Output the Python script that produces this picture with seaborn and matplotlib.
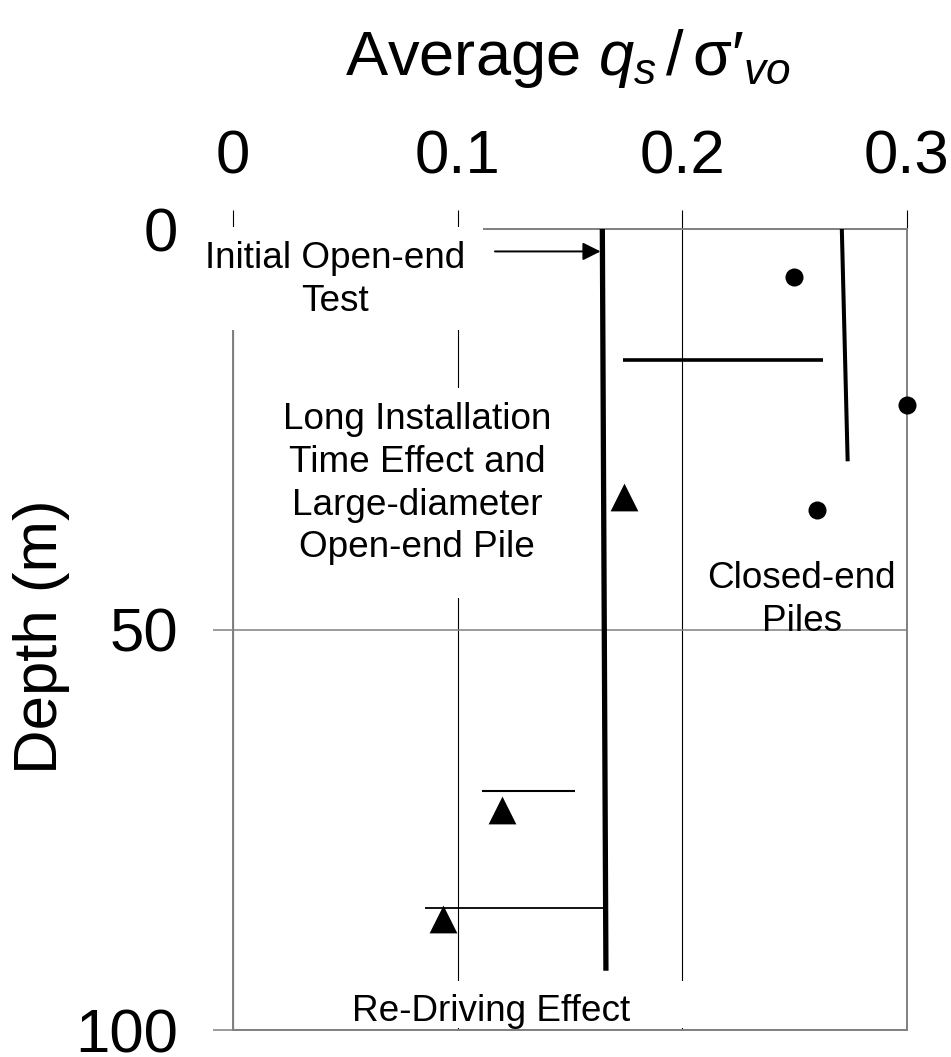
import matplotlib
matplotlib.use('Agg')
import matplotlib.pyplot as plt
from matplotlib.patches import Rectangle
import seaborn as sns

sns.set_style('white')
plt.rcParams['font.family'] = ['Liberation Sans', 'DejaVu Sans']
plt.rcParams['mathtext.fontset'] = 'custom'
plt.rcParams['mathtext.rm'] = 'Liberation Sans'
plt.rcParams['mathtext.it'] = 'Liberation Sans:italic'
plt.rcParams['text.color'] = 'black'
plt.rcParams['xtick.labelcolor'] = 'black'
plt.rcParams['ytick.labelcolor'] = 'black'

# values (q_s / sigma'_vo against depth in m)
open_end_q = [0.1644, 0.166]
open_end_depth = [0.0, 92.6]
closed_end_q = [0.271, 0.2736]
closed_end_depth = [0.0, 29.0]
bar_q_start = [0.1737, 0.111, 0.0854]
bar_q_end = [0.2627, 0.1523, 0.1656]
bar_depth = [16.4, 70.2, 84.8]
closed_pts_q = [0.2498, 0.2998, 0.2598]
closed_pts_depth = [5.95, 22.0, 35.1]
open_pts_q = [0.1739, 0.1196, 0.0936]
open_pts_depth = [33.5, 72.5, 86.1]
x_ticks = [0, 0.1, 0.2, 0.3]
x_tick_labels = ['0', '0.1', '0.2', '0.3']
y_ticks = [0, 50, 100]

fig = plt.figure(figsize=(9.51, 10.57), dpi=100)
ax = fig.add_axes([0.2450, 0.02554, 0.7087, 0.7578])

# main lines
sns.lineplot(x=open_end_q, y=open_end_depth, sort=False, estimator=None, color='black',
             lw=3.8, solid_capstyle='butt', ax=ax, zorder=4)
sns.lineplot(x=closed_end_q, y=closed_end_depth, sort=False, estimator=None, color='black',
             lw=2.9, solid_capstyle='butt', ax=ax, zorder=4)
bar_widths = [2.6, 1.5, 1.3]
for q0, q1, d, w in zip(bar_q_start, bar_q_end, bar_depth, bar_widths):
    sns.lineplot(x=[q0, q1], y=[d, d], sort=False, estimator=None, color='black',
                 lw=w, solid_capstyle='butt', ax=ax, zorder=4)

sns.scatterplot(x=closed_pts_q, y=closed_pts_depth, marker='o', s=13 ** 2, color='black',
                linewidth=0, ax=ax, zorder=5, clip_on=False, legend=False)
sns.scatterplot(x=open_pts_q, y=open_pts_depth, marker='^', s=20 ** 2, color='black',
                linewidth=0, ax=ax, zorder=5, clip_on=False, legend=False)

ax.set_xlim(0, 0.3)
ax.set_ylim(100, 0)
ax.set_xlabel('')
ax.set_ylabel('')

ax.xaxis.tick_top()
ax.set_xticks(x_ticks)
ax.set_xticklabels(x_tick_labels)
ax.set_yticks(y_ticks)
ax.tick_params(axis='x', which='major', direction='out', length=13.7, width=0.8,
               color='black', labelcolor='black', labelsize=44.5, pad=17, top=True, bottom=False)
ax.tick_params(axis='y', which='major', direction='out', length=14.4, width=1.1,
               color='#808080', labelcolor='black', labelsize=44.5, pad=25, left=True)

ax.set_axisbelow(True)
ax.grid(True, axis='x', color='black', lw=0.8)
ax.grid(True, axis='y', color='#808080', lw=1.1)
for sp in ax.spines.values():
    sp.set_visible(True)
    sp.set_color('#808080')
    sp.set_linewidth(1.4)

# white text boxes hide the grid underneath, as in the original
for (x0, x1, d0, d1) in [(-0.009, 0.1113, -0.3, 12.6),
                         (0.012, 0.148, 19.85, 46.07),
                         (0.05, 0.215, 93.9, 99.75)]:
    ax.add_patch(Rectangle((x0, d0), x1 - x0, d1 - d0, facecolor='white', edgecolor='none',
                           zorder=3, clip_on=False))

ax.annotate('', xy=(0.1636, 2.8), xytext=(0.1166, 2.8),
            arrowprops=dict(arrowstyle='-|>,head_length=0.4,head_width=0.2', lw=1.4,
                            color='black', mutation_scale=27, shrinkA=0, shrinkB=0),
            zorder=6)

fs = 26.6
ax.text(0.0456, 6.4, 'Initial Open-end\nTest', ha='center', va='center', fontsize=fs,
        linespacing=1.28, zorder=6, color='black')
ax.text(0.0819, 31.8, 'Long Installation\nTime Effect and\nLarge-diameter\nOpen-end Pile',
        ha='center', va='center', fontsize=fs, linespacing=1.28, zorder=6, color='black')
ax.text(0.2531, 46.3, 'Closed-end\nPiles', ha='center', va='center', fontsize=fs,
        linespacing=1.28, zorder=6, color='black')
ax.text(0.1148, 97.7, 'Re-Driving Effect', ha='center', va='center', fontsize=fs, zorder=6,
        color='black')

fig.text(568 / 951, 1 - 75 / 1057, r"Average $q_s\,/\,\mathrm{\sigma}\prime_{vo}$",
         ha='center', va='baseline', fontsize=45.5, color='black')
fig.text(42 / 951, 1 - 637 / 1057, 'Depth (m)', rotation=90, ha='center', va='center',
         fontsize=44.5, color='black')

fig.savefig('out.png', dpi=100)
